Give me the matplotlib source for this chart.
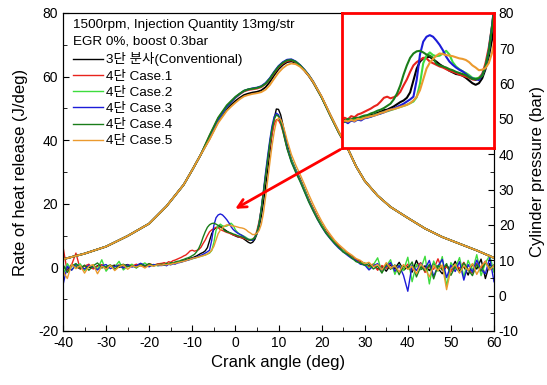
import numpy as np
import matplotlib.pyplot as plt

plt.rcParams['font.family'] = ['Liberation Sans', 'Noto Sans CJK KR']
plt.rcParams['axes.unicode_minus'] = False

labels = ['3단 분사(Conventional)', '4단 Case.1', '4단 Case.2',
          '4단 Case.3', '4단 Case.4', '4단 Case.5']
colors = ['black', '#e8231c', '#3ddc3d', '#1c1cd8', '#1a7d1a', '#eb9a2e']

# crank angle samples for heat release (finer around the pilot bump / main peak)
crank_hrr = np.concatenate([np.arange(-40, -17), np.arange(-17, 12.5, 0.5), np.arange(13, 61)])

# rate of heat release (J/deg)
hrr_conv = [0.3, -0.8, 0.9, 0.2, -0.4, 0.6, 0.1, -0.3, 0.5, 0.8, -0.2, 0.4, 0.7, 0.0, 0.5, 0.9, 0.3, 0.6, 1.1, 0.4, 0.8, 0.6, 1.0,
            0.8, 1.1, 0.7, 1.2, 1.0, 1.5, 1.3, 1.7, 1.6, 2.0,
            2.1, 2.4, 2.6, 2.9, 3.0, 3.3, 3.6, 4.0, 4.4, 4.7,
            5.2, 6.2, 8.4, 10.6, 11.9, 12.5, 12.7, 12.8, 12.3, 11.9,
            11.4, 11.0, 10.6, 10.2, 9.9, 9.6, 9.5, 9.3, 8.9, 8.4,
            7.9, 7.6, 7.9, 8.8, 10.5, 12.8, 16.0, 20.5, 25.5, 31.0,
            36.5, 42.0, 46.8, 49.8, 49.7, 48.0, 45.0, 41.8, 38.6,
            34.0, 30.8, 28.0, 24.8, 21.5, 18.6, 16.0, 13.6, 11.4, 9.6,
            8.0, 6.6, 5.4, 4.4, 3.4, 2.4, 1.9, 1.2, 0.4, 0.9,
            -0.6, 0.3, -1.2, 0.8, -0.4, 1.6, -0.9, 0.2, -1.5, 2.2,
            -0.7, 0.5, -1.0, 1.4, -0.3, -2.0, 0.6, -0.8, 1.9, -1.2,
            0.3, -2.4, 1.0, -0.5, 2.6, -3.5, 1.2, -1.0]
hrr_case1 = [6.5, -1.5, 0.8, 4.5, -0.6, 0.4, 1.0, -0.5, 0.3, 0.9, -0.7, 0.6, 0.2, 0.8, -0.3, 0.7, 0.4, 1.0, 0.5, 0.2, 1.2, 0.7, 1.1,
             1.3, 1.5, 1.2, 1.8, 1.6, 2.1, 2.3, 2.6, 2.9, 3.2,
             3.6, 3.9, 4.5, 5.2, 5.4, 5.1, 5.3, 5.6, 6.3, 7.5,
             8.6, 10.0, 11.2, 11.8, 12.2, 12.6, 12.5, 11.9, 11.6, 11.3,
             11.0, 10.8, 10.5, 10.2, 10.0, 9.8, 9.5, 9.3, 9.1, 8.9,
             8.6, 8.5, 8.9, 9.6, 11.6, 14.5, 18.5, 23.5, 28.5, 33.5,
             38.0, 42.0, 45.0, 46.5, 46.3, 45.0, 42.8, 40.2, 37.5,
             33.5, 30.5, 27.8, 24.7, 21.5, 18.8, 16.0, 13.6, 11.3, 9.8,
             8.0, 6.8, 5.2, 4.6, 3.2, 2.5, 1.6, 1.3, 0.2, 1.1,
             -0.9, 0.6, -0.3, 1.2, -1.3, 0.4, -0.5, 1.0, -0.8, 0.3,
             1.5, -1.6, 0.4, -0.6, 2.7, -0.9, 0.2, -1.4, 0.8, -0.3,
             1.6, -0.9, -1.8, 1.3, -0.2, 2.0, -0.7, 0.5]
hrr_case2 = [-2.5, 1.2, -0.8, 0.5, 1.1, -1.0, 0.3, 0.8, -0.6, 2.4, -1.2, 0.6, 0.1, 1.9, -0.8, 0.4, 1.0, -0.2, 0.7, 1.4, 0.3, 0.9, 0.5,
             0.9, 0.7, 1.2, 0.9, 1.3, 1.1, 1.5, 1.4, 1.8, 1.7,
             2.0, 2.2, 2.3, 2.6, 2.7, 2.9, 3.1, 3.3, 3.5, 3.7,
             3.9, 4.2, 4.5, 5.3, 7.8, 11.6, 13.0, 13.6, 13.1, 12.9,
             13.0, 13.4, 13.9, 13.2, 11.8, 11.0, 10.5, 10.1, 9.8, 9.4,
             8.9, 8.8, 8.9, 9.3, 11.0, 13.8, 18.5, 23.8, 29.2, 34.5,
             39.5, 43.8, 46.8, 48.0, 47.6, 46.0, 43.5, 40.6, 37.8,
             33.8, 30.6, 27.6, 24.6, 21.2, 18.4, 15.6, 13.4, 11.0, 9.4,
             7.8, 6.2, 5.3, 4.0, 3.1, 2.0, 1.3, 1.5, -0.4, 0.8,
             3.0, -1.5, 0.4, 2.4, -2.2, 0.9, -1.0, 3.2, -4.5, 1.0,
             -0.6, 3.5, -5.2, 2.0, -1.2, 3.4, -6.0, 1.5, -0.4, 3.1,
             -3.0, 2.2, -1.0, 4.0, -2.6, 1.4, 3.8, -1.5]
hrr_case3 = [-5.5, 0.4, -0.9, 1.0, 0.2, -0.5, 0.7, 0.1, -0.8, 0.5, 0.9, -0.4, 0.3, 0.6, -0.2, 0.8, 0.1, 0.5, 1.3, 0.6, 0.2, 0.9, 0.6,
             0.6, 0.9, 0.5, 1.0, 0.8, 1.2, 1.0, 1.4, 1.5, 1.7,
             1.9, 2.1, 2.3, 2.5, 2.8, 3.0, 3.2, 3.5, 3.8, 4.1,
             4.5, 4.9, 5.4, 8.5, 13.2, 15.6, 16.5, 16.8, 16.5, 15.8,
             15.0, 14.0, 12.8, 11.9, 11.3, 10.8, 10.4, 10.1, 9.6, 9.1,
             8.8, 8.6, 8.5, 9.4, 10.8, 13.8, 18.5, 24.0, 29.8, 35.2,
             40.2, 44.5, 47.4, 48.5, 48.0, 46.2, 43.6, 40.6, 37.6,
             33.2, 30.2, 27.2, 24.0, 20.8, 18.0, 15.2, 12.8, 10.7, 9.0,
             7.4, 6.0, 4.9, 3.8, 2.8, 2.2, 1.0, 0.8, -0.8, 0.5,
             1.2, -0.9, 0.3, 1.5, -1.2, 0.6, -2.5, -7.5, 0.8, -1.0,
             1.3, -0.5, 2.2, -2.8, 0.4, 2.5, -3.2, 0.7, -1.3, 1.8,
             -4.0, 0.9, -1.5, 2.3, -0.6, -2.0, 3.0, -4.5]
hrr_case4 = [0.9, -1.6, 0.4, 1.2, -0.3, 0.7, -0.9, 0.5, 1.4, -0.2, 0.3, 0.8, -0.6, 0.5, 1.0, 0.2, 0.6, -0.1, 0.9, 0.5, 1.2, 0.4, 0.9,
             1.0, 0.8, 1.3, 1.1, 1.5, 1.4, 1.7, 1.9, 2.0, 2.3,
             2.5, 2.8, 3.0, 3.3, 3.7, 4.1, 4.9, 6.0, 7.5, 9.5,
             11.2, 12.6, 13.4, 13.8, 13.9, 13.6, 13.2, 13.0, 12.6, 11.5,
             11.2, 11.0, 10.8, 10.5, 10.3, 10.0, 9.8, 9.6, 9.4, 9.0,
             8.7, 8.6, 8.8, 9.3, 11.0, 13.7, 18.2, 23.5, 29.0, 34.2,
             39.2, 43.5, 46.6, 48.0, 47.5, 45.8, 43.0, 40.0, 37.2,
             33.0, 29.8, 27.0, 23.8, 20.6, 17.8, 15.2, 12.9, 10.8, 9.1,
             7.6, 6.3, 4.8, 4.1, 3.0, 1.8, 1.4, 0.6, 1.2, -0.5,
             0.4, -1.8, 1.1, -0.6, 0.8, -2.3, 0.5, -0.4, 1.7, -3.0,
             0.2, -1.1, 0.9, -3.6, 0.6, -0.8, 1.2, -2.5, 0.3, -1.6,
             1.4, -0.7, -2.6, 0.9, -1.2, 1.6, -0.4, 0.8]
hrr_case5 = [-1.2, -3.5, 1.0, -0.4, 0.6, -1.8, 0.3, 0.9, -2.0, 0.4, -0.5, 0.7, -1.0, 0.2, 0.8, -0.6, 0.5, 0.1, 0.6, -0.2, 0.7, 0.4, 0.8,
             0.7, 1.0, 0.8, 1.1, 0.9, 1.3, 1.2, 1.5, 1.6, 1.8,
             1.9, 2.1, 2.4, 2.5, 2.8, 3.0, 3.1, 3.3, 3.5, 3.7,
             3.9, 4.2, 4.7, 5.4, 6.6, 8.6, 10.6, 11.7, 12.4, 13.0,
             13.4, 13.3, 13.1, 13.0, 12.9, 12.7, 12.5, 12.4, 12.2, 11.8,
             11.2, 10.8, 10.3, 10.4, 10.7, 11.6, 13.5, 17.0, 22.0, 27.5,
             33.0, 38.2, 42.6, 45.8, 47.0, 46.6, 45.0, 42.6, 40.0,
             35.5, 32.2, 29.3, 26.2, 23.0, 20.0, 17.2, 14.6, 12.3, 10.4,
             8.6, 7.2, 6.0, 4.8, 3.9, 2.8, 2.2, 1.2, 1.6, 0.2,
             0.9, -0.8, 1.5, -0.3, 0.6, -1.4, 0.9, -0.6, 0.3, -2.0,
             1.1, -0.4, -3.0, 0.6, -1.0, 0.8, -7.0, -0.5, 1.0, -1.8,
             0.5, -0.9, 1.2, -2.2, 0.4, 1.8, -0.8, 0.6]

# cylinder pressure (bar)
crank_p = [-40, -35, -30, -25, -20, -16, -12, -10, -8,
           -6, -4, -2, -1, 0, 1, 2, 3, 4, 5, 6, 7, 8, 9, 10, 11, 12, 13, 14, 15, 16, 17, 18, 20, 22, 24,
           26, 28, 30, 33, 36, 40, 44, 48, 52, 56, 60]
p_head = [10.3, 11.9, 13.9, 16.9, 20.4, 25.3, 31.4, 35.6, 40.0]
p_tail = [41.8, 36.6, 32.5, 28.3, 25.1, 22.0, 19.0, 16.6, 14.7, 12.8, 10.7]
p_conv = p_head + [44.4, 49.3, 52.8, 54.0, 55.1, 56.0, 56.8, 57.2, 57.5, 57.7, 58.1, 59.0, 60.5,
                   62.4, 64.1, 65.3, 66.1, 66.3, 65.9, 65.0, 63.7, 62.2, 60.4, 56.1, 51.0, 46.1] + p_tail
p_case1 = p_head + [45.2, 50.2, 53.6, 54.9, 56.0, 57.0, 57.8, 58.2, 58.4, 58.6, 59.0, 59.9, 61.3,
                    63.0, 64.6, 65.7, 66.4, 66.6, 66.1, 65.1, 63.8, 62.3, 60.5, 56.2, 51.1, 46.2] + p_tail
p_case2 = p_head + [44.6, 49.7, 53.4, 54.8, 56.1, 57.1, 58.0, 58.4, 58.6, 58.8, 59.2, 60.1, 61.5,
                    63.3, 64.9, 66.0, 66.7, 66.8, 66.2, 65.2, 63.9, 62.4, 60.6, 56.2, 51.1, 46.2] + p_tail
p_case3 = p_head + [44.9, 49.9, 53.5, 54.8, 56.1, 57.1, 58.0, 58.4, 58.7, 58.9, 59.3, 60.2, 61.6,
                    63.4, 65.0, 66.1, 66.8, 66.9, 66.3, 65.3, 64.0, 62.5, 60.7, 56.3, 51.2, 46.3] + p_tail
p_case4 = p_head + [45.4, 50.4, 53.9, 55.1, 56.3, 57.2, 58.0, 58.4, 58.6, 58.8, 59.2, 60.0, 61.4,
                    63.2, 64.8, 65.9, 66.6, 66.7, 66.2, 65.2, 63.9, 62.4, 60.6, 56.2, 51.1, 46.2] + p_tail
p_case5 = p_head + [44.2, 48.9, 52.3, 53.5, 54.6, 55.6, 56.4, 56.8, 57.1, 57.3, 57.6, 58.3, 59.6,
                    61.4, 63.1, 64.4, 65.3, 65.7, 65.5, 64.8, 63.7, 62.3, 60.6, 56.4, 51.3, 46.4] + p_tail

hrr_all = [hrr_conv, hrr_case1, hrr_case2, hrr_case3, hrr_case4, hrr_case5]
p_all = [p_conv, p_case1, p_case2, p_case3, p_case4, p_case5]

fig = plt.figure(figsize=(5.47, 3.85), dpi=100)
ax = fig.add_axes([63 / 547, 1 - 331 / 385, 431 / 547, 318 / 385])
ax2 = ax.twinx()

for y, c, lab in zip(hrr_all, colors, labels):
    ax.plot(crank_hrr, y, color=c, lw=1.0, label=lab)
for y, c in zip(p_all, colors):
    ax2.plot(crank_p, y, color=c, lw=1.3)

ax.set_xlim(-40, 60)
ax.set_ylim(-20, 80)
ax2.set_ylim(-10, 80)
ax.set_xticks(range(-40, 61, 10))
ax.set_xticks(range(-35, 60, 10), minor=True)
ax.set_yticks(range(-20, 81, 20))
ax.set_yticks(range(-10, 80, 20), minor=True)
ax2.set_yticks(range(-10, 81, 10))
ax2.set_yticks(range(-5, 80, 10), minor=True)
ax.tick_params(which='both', direction='in', labelsize=10, top=False, right=False)
ax.tick_params(which='major', length=4)
ax.tick_params(which='minor', length=3)
ax2.tick_params(which='both', direction='in', labelsize=10)
ax2.tick_params(which='major', length=4)
ax2.tick_params(which='minor', length=3)

ax.set_xlabel('Crank angle (deg)', fontsize=12)
ax.set_ylabel('Rate of heat release (J/deg)', fontsize=12, labelpad=7)
ax2.set_ylabel('Cylinder pressure (bar)', fontsize=12, labelpad=8)

ax.text(0.023, 0.962, '1500rpm, Injection Quantity 13mg/str', transform=ax.transAxes,
        fontsize=9.7, va='center')
ax.text(0.023, 0.909, 'EGR 0%, boost 0.3bar', transform=ax.transAxes,
        fontsize=9.7, va='center')
ax.legend(loc='upper left', bbox_to_anchor=(0.023, 0.876), frameon=False, fontsize=9.7,
          handlelength=2.2, handletextpad=0.25, labelspacing=0.28,
          borderpad=0, borderaxespad=0)

# arrow from the zoom box to the pilot bump
ax.annotate('', xy=(-0.6, 18.0), xytext=(24.9, 37.5),
            arrowprops=dict(arrowstyle='->', color='red', lw=2, mutation_scale=15))

# zoomed view of the pilot heat release
axin = fig.add_axes([342 / 547, 1 - 148 / 385, 152 / 547, 135 / 385])
for y, c in zip(hrr_all, colors):
    axin.plot(crank_hrr, y, color=c, lw=1.5)
axin.set_xlim(-16.9, 6.3)
axin.set_ylim(-4.1, 20.9)
axin.set_xticks([])
axin.set_yticks([])
for s in axin.spines.values():
    s.set_color('red')
    s.set_linewidth(2)

fig.savefig('out.png', dpi=100)
